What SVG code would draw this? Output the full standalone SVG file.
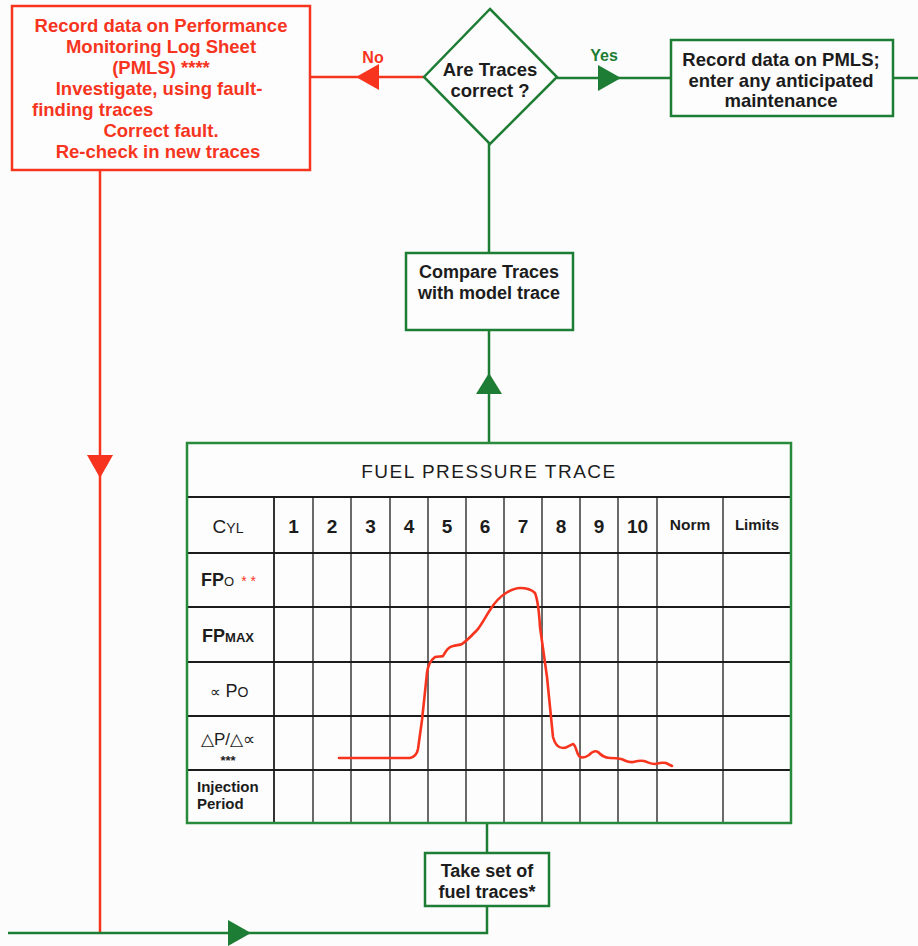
<svg xmlns="http://www.w3.org/2000/svg" width="918" height="946" viewBox="0 0 918 946">
<style>
text{font-family:"Liberation Sans",Arial,Helvetica,sans-serif;font-weight:bold;}
.rt{fill:#f7351f;font-size:18.5px;text-anchor:middle;}
.bt{fill:#1c1c1c;font-size:18.5px;text-anchor:middle;}
.gbox{fill:#fdfdfd;stroke:#1e7d34;stroke-width:2.5;}
.rbox{fill:#fdfdfd;stroke:#f7351f;stroke-width:2.5;}
.gl{fill:none;stroke:#1e7d34;stroke-width:2.5;}
.rl{fill:none;stroke:#f7351f;stroke-width:2.5;}
.ga{fill:#1e7d34;}
.ra{fill:#f7351f;}
.grid{stroke:#1c1c1c;stroke-width:1.3;}
.gridh{stroke:#1c1c1c;stroke-width:1.8;}
.num{fill:#1c1c1c;font-size:19px;text-anchor:middle;}
.lab{fill:#1c1c1c;text-anchor:middle;}
</style>
<rect width="918" height="946" fill="#fcfcfc"/>
<g id="connectors">
<line class="rl" x1="311" y1="77" x2="424" y2="77"/>
<polygon class="ra" points="356,77 379,64 379,90"/>
<line class="rl" x1="100" y1="170" x2="100" y2="933"/>
<polygon class="ra" points="100,478 87,455 113,455"/>
<line class="gl" x1="557" y1="78" x2="671" y2="78"/>
<polygon class="ga" points="621,78 598,65 598,91"/>
<line class="gl" x1="893" y1="78" x2="918" y2="78"/>
<line class="gl" x1="489" y1="143" x2="489" y2="253"/>
<line class="gl" x1="489" y1="330" x2="489" y2="443"/>
<polygon class="ga" points="489,373 476,394 502,394"/>
<line class="gl" x1="487" y1="823" x2="487" y2="853"/>
<polyline class="gl" points="487,906 487,933 8,933"/>
<polygon class="ga" points="251,933 228,920 228,946"/>
<text x="373" y="63" style="fill:#f7351f;font-size:16px;text-anchor:middle;">No</text>
<text x="604" y="61" style="fill:#1e7d34;font-size:16px;text-anchor:middle;">Yes</text>
</g>
<g id="fault-box">
<rect class="rbox" x="12" y="6" width="298" height="164"/>
<text class="rt" x="161" y="32">Record data on Performance</text>
<text class="rt" x="161" y="53">Monitoring Log Sheet</text>
<text class="rt" x="161" y="74">(PMLS) ****</text>
<text class="rt" x="159" y="95">Investigate, using fault-</text>
<text class="rt" x="32" y="116" style="text-anchor:start;">finding traces</text>
<text class="rt" x="161" y="137">Correct fault.</text>
<text class="rt" x="158" y="158">Re-check in new traces</text>
</g>
<g id="decision">
<polygon class="gbox" points="490,9 557,77 490,144 424,77"/>
<text class="bt" x="490" y="76">Are Traces</text>
<text class="bt" x="490" y="97">correct ?</text>
</g>
<g id="record-box">
<rect class="gbox" x="671" y="40" width="222" height="76"/>
<text class="bt" x="781" y="66">Record data on PMLS;</text>
<text class="bt" x="781" y="87">enter any anticipated</text>
<text class="bt" x="781" y="107">maintenance</text>
</g>
<g id="compare-box">
<rect class="gbox" x="406" y="253" width="167" height="77"/>
<text class="bt" x="489" y="278" style="font-size:18px;">Compare Traces</text>
<text class="bt" x="489" y="299" style="font-size:18px;">with model trace</text>
</g>
<g id="take-box">
<rect class="gbox" x="425" y="853" width="124" height="53"/>
<text class="bt" x="487" y="877" style="font-size:18px;">Take set of</text>
<text class="bt" x="487" y="898" style="font-size:18px;">fuel traces*</text>
</g>
<g id="trace-table">
<rect x="187" y="443" width="604" height="380" fill="#fdfdfd" stroke="none"/>
<text x="489" y="478" style="fill:#1c1c1c;font-size:19px;font-weight:normal;text-anchor:middle;letter-spacing:1.5px;">FUEL PRESSURE TRACE</text>
<g>
<line class="gridh" x1="187" y1="497" x2="791" y2="497"/>
<line class="gridh" x1="187" y1="553" x2="791" y2="553"/>
<line class="gridh" x1="187" y1="607" x2="791" y2="607"/>
<line class="gridh" x1="187" y1="662" x2="791" y2="662"/>
<line class="gridh" x1="187" y1="716" x2="791" y2="716"/>
<line class="gridh" x1="187" y1="770" x2="791" y2="770"/>
<line class="gridh" x1="274" y1="497" x2="274" y2="823"/>
<line class="grid" x1="313" y1="497" x2="313" y2="823"/>
<line class="grid" x1="351" y1="497" x2="351" y2="823"/>
<line class="grid" x1="390" y1="497" x2="390" y2="823"/>
<line class="grid" x1="428" y1="497" x2="428" y2="823"/>
<line class="grid" x1="466" y1="497" x2="466" y2="823"/>
<line class="grid" x1="504" y1="497" x2="504" y2="823"/>
<line class="grid" x1="542" y1="497" x2="542" y2="823"/>
<line class="grid" x1="580" y1="497" x2="580" y2="823"/>
<line class="grid" x1="618" y1="497" x2="618" y2="823"/>
<line class="grid" x1="657" y1="497" x2="657" y2="823"/>
<line class="grid" x1="723" y1="497" x2="723" y2="823"/>
</g>
<rect x="187" y="443" width="604" height="380" fill="none" stroke="#2a8a3c" stroke-width="2.5"/>
<text class="lab" x="228" y="533" style="font-weight:normal;font-size:19px;">C<tspan style="font-size:14px;">YL</tspan></text>
<text class="num" x="293.5" y="533">1</text>
<text class="num" x="332" y="533">2</text>
<text class="num" x="370.5" y="533">3</text>
<text class="num" x="409" y="533">4</text>
<text class="num" x="447" y="533">5</text>
<text class="num" x="485" y="533">6</text>
<text class="num" x="523" y="533">7</text>
<text class="num" x="561" y="533">8</text>
<text class="num" x="599" y="533">9</text>
<text class="num" x="637.5" y="533">10</text>
<text class="lab" x="690" y="530" style="font-size:15.5px;">Norm</text>
<text class="lab" x="757" y="530" style="font-size:15px;">Limits</text>
<text x="201" y="586" style="fill:#1c1c1c;font-size:18px;">FP<tspan style="font-size:13px;font-weight:normal;">O</tspan><tspan dx="7" style="fill:#f7351f;font-size:14px;font-weight:normal;">* *</tspan></text>
<text class="lab" x="228" y="642" style="font-size:18px;">FP<tspan style="font-size:13px;">MAX</tspan></text>
<text class="lab" x="229" y="697" style="font-size:18px;font-weight:normal;"><tspan style="font-size:15px;">∝</tspan> P<tspan style="font-size:14px;">O</tspan></text>
<text class="lab" x="228" y="745" style="font-size:17px;font-weight:normal;">△P/△∝</text>
<text class="lab" x="228" y="765" style="font-size:13px;">***</text>
<text x="197" y="792" style="fill:#1c1c1c;font-size:15px;">Injection</text>
<text x="197" y="809" style="fill:#1c1c1c;font-size:15px;">Period</text>
<path d="M339,758 L410,758 C415,757 417,754 418,749 L422,720 L427,673 C428,664 431,660 435,657 C438,656 441,657 443,656 C446,651 448,647 453,646 C457,645 460,645 462,644 C468,640 472,635 478,629 C483,622 486,616 490,610 C495,602 501,596 506,593 C511,590 515,588 520,588 C526,588 531,589 535,593 C537,598 539,610 540,627 L547,677 L553,737 C555,745 558,748 563,748 C567,748 570,745 573,744 C576,745 576,752 579,756 C582,759 586,757 589,755 C592,752 595,750 598,752 C601,755 604,758 610,758 C614,758 617,758 621,759 C625,760 628,763 633,762 C637,761 640,760 644,761 C648,762 650,764 655,764 C659,763 662,762 666,763 C668,764 670,765 672,766" fill="none" stroke="#f7351f" stroke-width="2.6" stroke-linejoin="round" stroke-linecap="round"/>
</g>
</svg>
